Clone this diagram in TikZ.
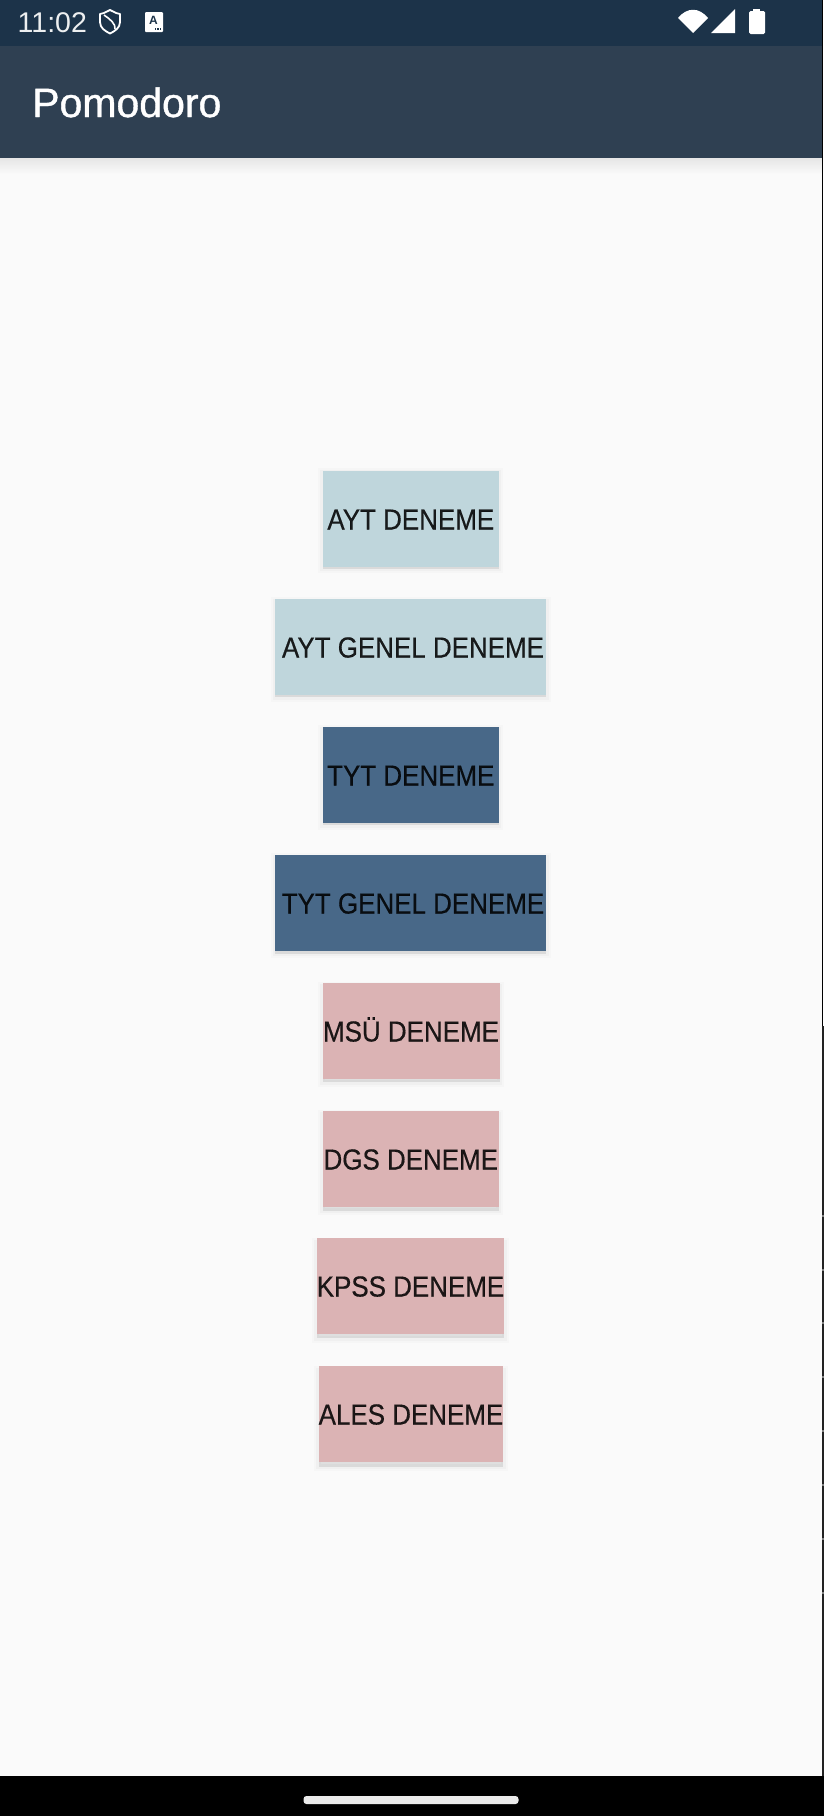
\documentclass[tikz,border=0pt]{standalone}
\usepackage{fontspec}
\setmainfont{Liberation Sans}
\newfontfamily\btnfont[FakeStretch=0.895,FakeBold=0.4]{Liberation Sans}
\newfontfamily\titlefont[FakeBold=1]{Liberation Sans}
\usepackage{xcolor}
\definecolor{statusbar}{HTML}{1C3349}
\definecolor{appbar}{HTML}{2F4052}
\definecolor{screenbg}{HTML}{FAFAFA}
\definecolor{aytcol}{HTML}{BFD6DC}
\definecolor{tytcol}{HTML}{486888}
\definecolor{othercol}{HTML}{DBB3B4}
\definecolor{edgestrip}{HTML}{222222}
\tikzset{
    softshadow/.style={
        preaction={draw=black,draw opacity=.014,line width=9pt,transform canvas={yshift=-#1}},
        preaction={draw=black,draw opacity=.022,line width=5pt,transform canvas={yshift=-#1}},
        preaction={fill=black,fill opacity=.09,transform canvas={yshift=-#1}}
    },
    deneme/.style={rectangle,minimum height=96pt,inner sep=0pt,outer sep=0pt,text height=21pt,text depth=0pt,
        font=\btnfont\fontsize{29}{29}\selectfont,text=black,text opacity=.87},
    icon/.style={fill=white,draw=none}
}
\begin{document}
\begin{tikzpicture}[x=1pt,y=-1pt]
    \useasboundingbox (0,0) rectangle (824,1816);
    \fill[screenbg] (0,0) rectangle (824,1816);

    % bars
    \fill[statusbar] (0,0) rectangle (822,46);
    \fill[appbar] (0,46) rectangle (822,158);
    \shade[top color=black!8!screenbg,bottom color=screenbg] (0,158) rectangle (822,174);
    \fill[black] (0,1776) rectangle (824,1816);
    \fill[black] (822,0) rectangle (823,1026);
    \fill[white] (823,0) rectangle (824,1026);
    \fill[edgestrip] (822,1026) rectangle (824,1776);
    \foreach \ty in {1215,1269,1322,1376,1430,1484,1538,1592}
        \fill[black!50] (822,\ty) rectangle (824,\ty+1.5);
    \fill[black!8!white,rounded corners=3pt] (303.5,1796) rectangle (518.5,1804);

    % status icons
    \node[anchor=base west,inner sep=0pt,text=white!92!statusbar,font=\fontsize{28.5}{28.5}\selectfont] (clock) at (17.5,32) {11:02};
    \draw[white,line width=1.8pt,line join=round] (110,10) .. controls (104,13) and (102,14) .. (100,14)
        -- (100,22) .. controls (100,28) and (105,31) .. (110,33.5)
        .. controls (115,31) and (120,28) .. (120,22) -- (120,14)
        .. controls (118,14) and (116,13) .. (110,10) -- cycle;
    \draw[white,line width=1.6pt] (104,15) .. controls (110,19) and (116,24) .. (115,29);
    \fill[white,rounded corners=1pt] (145,12) rectangle (163,32);
    \node[inner sep=0pt,text=statusbar,font=\fontsize{12}{12}\selectfont\bfseries] (keyA) at (153.5,20.5) {A};
    \foreach \dx in {155.5,158,160.5}
        \fill[statusbar] (\dx-0.8,27.5) rectangle (\dx+0.8,29.5);
    \fill[icon] (693,33) -- (678,18) .. controls (687,7) and (699,7) .. (708,18) -- cycle;
    \fill[icon] (711,33) -- (735,9) -- (735,33) -- cycle;
    \fill[icon,rounded corners=1.5pt] (749,11) rectangle (765,34);
    \fill[icon] (753,8.7) rectangle (760,12);

    % title
    \node[anchor=base west,inner sep=0pt,text=white,font=\titlefont\fontsize{41}{41}\selectfont] (title) at (32,117) {Pomodoro};

    % buttons
    \node[deneme,fill=aytcol,minimum width=176pt,softshadow=1.5pt] (ayt) at (410.8,519) {AYT DENEME};
    \node[deneme,fill=aytcol,minimum width=271pt,softshadow=2pt] (aytgenel) at (410.5,647) {\hspace*{5pt}AYT GENEL DENEME};
    \node[deneme,fill=tytcol,minimum width=176pt,softshadow=2pt] (tyt) at (410.8,775) {TYT DENEME};
    \node[deneme,fill=tytcol,minimum width=271pt,softshadow=2.5pt] (tytgenel) at (410.5,903) {\hspace*{5pt}TYT GENEL DENEME};
    \node[deneme,fill=othercol,minimum width=177pt,softshadow=3pt] (msu) at (411,1031) {MSÜ DENEME};
    \node[deneme,fill=othercol,minimum width=176pt,softshadow=3.5pt] (dgs) at (410.8,1159) {DGS DENEME};
    \node[deneme,fill=othercol,minimum width=187pt,softshadow=4pt] (kpss) at (410.5,1286) {KPSS DENEME};
    \node[deneme,fill=othercol,minimum width=184pt,softshadow=4.5pt] (ales) at (411,1414) {ALES DENEME};
\end{tikzpicture}
\end{document}
